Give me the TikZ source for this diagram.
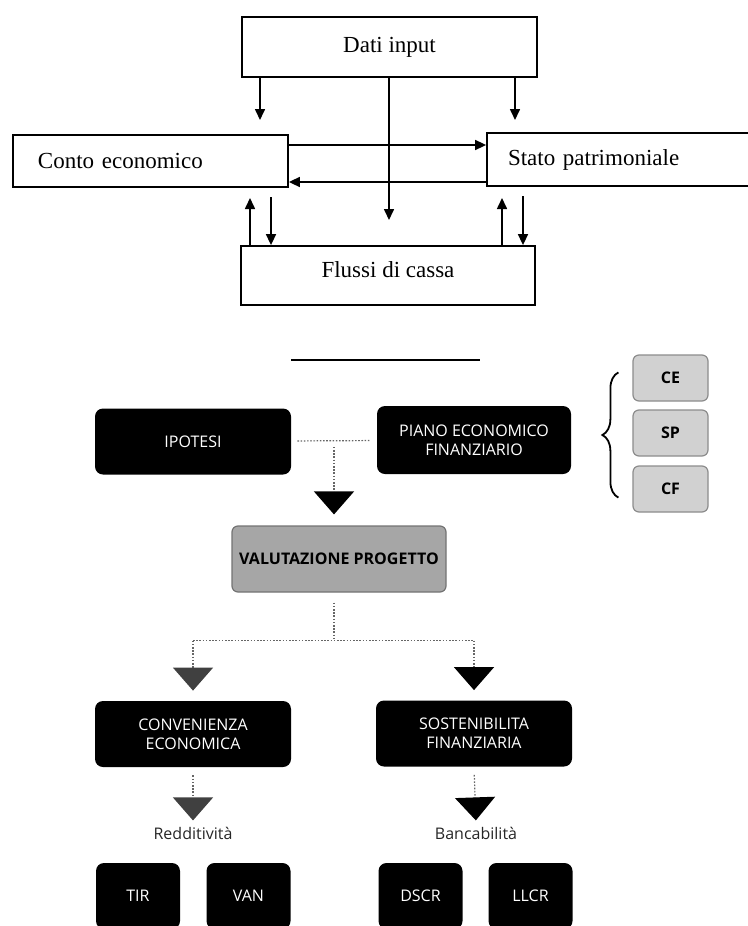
\documentclass[tikz,border=0pt]{standalone}
\usepackage{fontspec}
\setmainfont{Liberation Serif}
\newfontfamily\osans{Open Sans}
\usetikzlibrary{arrows.meta, positioning, calc, decorations.pathreplacing}

\begin{document}
\begin{tikzpicture}[x=0.5pt, y=-0.5pt,
    flow/.style={rectangle, draw, line width=0.9pt, font=\fontsize{11.5}{13}\selectfont},
    arrow/.style={-{Triangle[length=5.5pt, width=5pt]}, line width=0.8pt},
    darkbox/.style={rectangle, fill=black, rounded corners=4pt, text=white, align=center, font=\osans\fontsize{8}{9.5}\selectfont, minimum width=98pt, minimum height=33pt},
    smallbox/.style={darkbox, minimum width=42pt},
    greybox/.style={rectangle, draw=black!55, fill=black!35, line width=0.6pt, rounded corners=3pt, font=\osans\bfseries\fontsize{8}{9.5}\selectfont, minimum width=107pt, minimum height=33pt},
    tagbox/.style={rectangle, draw=black!45, fill=black!18, line width=0.6pt, rounded corners=3pt, font=\osans\bfseries\fontsize{8}{9.5}\selectfont, minimum width=37.5pt, minimum height=23pt},
    subtitle/.style={font=\osans\fontsize{8}{9.5}\selectfont, text=black!85, inner sep=1pt},
    dotlink/.style={black!60, line width=0.6pt, dash pattern=on 0.8pt off 0.8pt},
    droplink/.style={dotlink, -{Triangle[length=11.5pt, width=20pt, color=#1]}},
    droplink/.default=black
]
    \clip (0,0) rectangle (748,926);

    % Schema superiore
    \node[flow, minimum width=147.5pt, minimum height=30pt] (dati) at (389.5,47) {Dati input};
    \node[flow, minimum height=26pt, text width=112.5pt, inner xsep=12.5pt, align=left] (conto) at (150.5,161) {Conto economico};
    \node[flow, minimum height=26.5pt, text width=115.5pt, inner xsep=10.5pt, align=left] (stato) at (623.5,159.5) {Stato patrimoniale};
    \node[flow, minimum width=147pt, minimum height=29.5pt, text depth=6pt] (flussi) at (388,275.5) {Flussi di cassa};

    \coordinate (ce in) at (260,120);
    \coordinate (sp in) at (515,120);
    \coordinate (cf in) at (389,220);
    \coordinate (ce up) at (250,198);
    \coordinate (ce dn) at (271,197);
    \coordinate (sp up) at (502,198);
    \coordinate (sp dn) at (523,196);

    \draw[arrow] (dati.south -| ce in) -- (ce in);
    \draw[arrow] (dati.south -| sp in) -- (sp in);
    \draw[arrow] (dati.south -| cf in) -- (cf in);
    \draw[arrow] ([yshift=8pt]conto.east) -- ([yshift=8pt]conto.east -| stato.west);
    \draw[arrow] ([yshift=-10.5pt]conto.east -| stato.west) -- ([yshift=-10.5pt]conto.east);
    \draw[arrow] (flussi.north -| ce up) -- (ce up);
    \draw[arrow] (ce dn) -- (flussi.north -| ce dn);
    \draw[arrow] (flussi.north -| sp up) -- (sp up);
    \draw[arrow] (sp dn) -- (flussi.north -| sp dn);

    \draw[line width=0.8pt] (291,360) -- (480,360);

    % Schema inferiore
    \node[darkbox] (ipotesi) at (193,441.5) {IPOTESI};
    \node[darkbox, minimum width=97pt, minimum height=34pt] (piano) at (474,440) {PIANO ECONOMICO\\FINANZIARIO};
    \node[greybox] (valut) at (339,559) {VALUTAZIONE PROGETTO};
    \node[tagbox] (ce) at (670.5,378) {CE};
    \node[tagbox] (sp) at (670.5,433) {SP};
    \node[tagbox] (cf) at (670.5,489) {CF};
    \node[darkbox] (conv) at (193,734) {CONVENIENZA\\ECONOMICA};
    \node[darkbox] (sost) at (474,733.5) {SOSTENIBILITA\\FINANZIARIA};
    \node[subtitle] (redd) at (193,833) {Redditività};
    \node[subtitle] (banc) at (476,833) {Bancabilità};
    \node[smallbox] (tir) at (138,896) {TIR};
    \node[smallbox] (van) at (248.5,896) {VAN};
    \node[smallbox] (dscr) at (420.5,896) {DSCR};
    \node[smallbox] (llcr) at (530.5,896) {LLCR};

    \draw[line width=0.9pt, decorate, decoration={brace, amplitude=8pt}] ([shift={(-14,-15)}]cf.south west) -- ([shift={(-14,18)}]ce.north west);

    \coordinate (join) at ($(ipotesi.east)!.5!(piano.west)$);
    \coordinate (split) at ($(valut.south -| join)+(0,48)$);

    \draw[dotlink, shorten <=3pt, shorten >=3pt] (ipotesi) -- (piano);
    \draw[droplink, shorten <=3pt, shorten >=5.5pt] (join) -- (join |- valut.north);
    \draw[dotlink, shorten <=5pt] (valut.south -| join) -- (split);
    \draw[dotlink] (split -| conv) -- (split -| sost);
    \draw[droplink=black!75, shorten >=5pt] (split -| conv) -- (conv.north);
    \draw[droplink, shorten >=5pt] (split -| sost) -- (sost.north);
    \draw[droplink=black!75, shorten <=4pt, shorten >=2pt] (conv.south) -- (redd.north);
    \draw[droplink, shorten <=4pt, shorten >=2pt] (sost.south) -- (banc.north);
\end{tikzpicture}
\end{document}
